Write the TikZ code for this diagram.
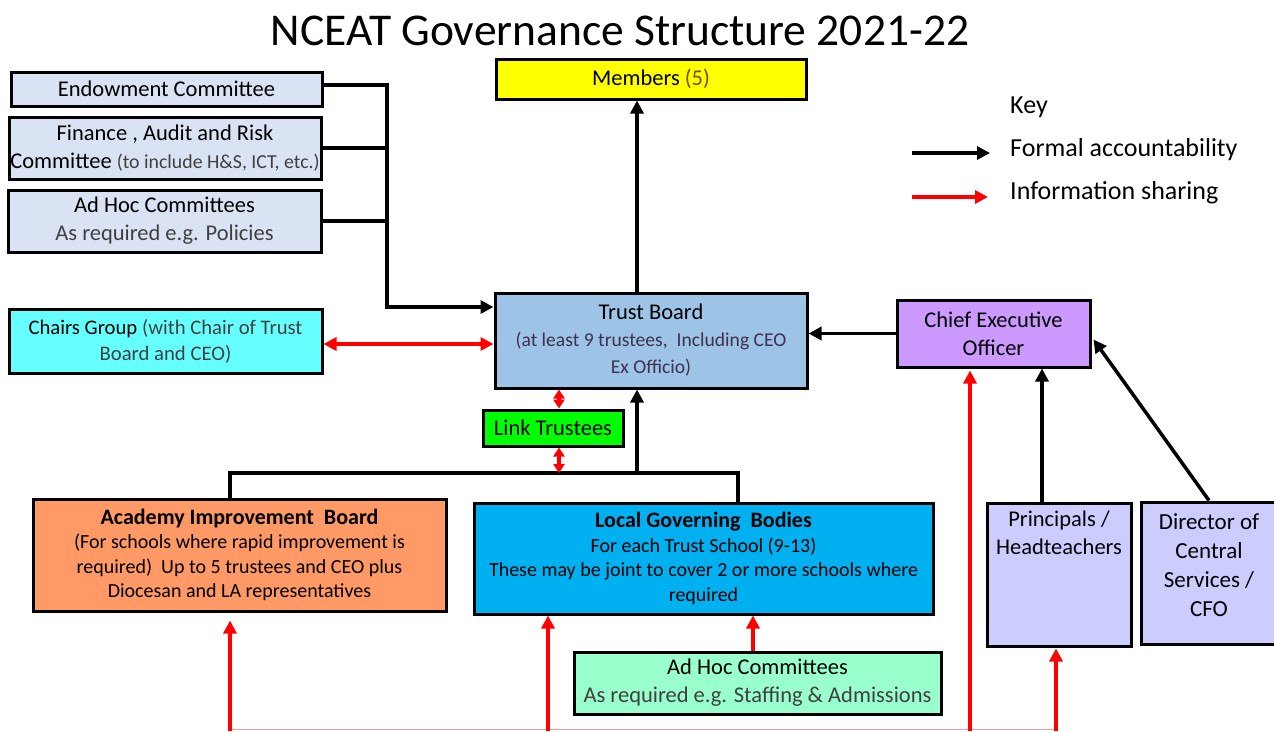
\documentclass[tikz,border=0pt]{standalone}
\usepackage{fontspec}
\setmainfont{Carlito}
\usetikzlibrary{arrows.meta}
\usetikzlibrary{calc}

\definecolor{cmtfill}{HTML}{DAE3F3}
\definecolor{chairfill}{HTML}{66FFFF}
\definecolor{trustfill}{HTML}{9DC3E6}
\definecolor{ceofill}{HTML}{CC99FF}
\definecolor{linkfill}{HTML}{00FF00}
\definecolor{aibfill}{HTML}{FF9966}
\definecolor{lgbfill}{HTML}{00B0F0}
\definecolor{staffcmtfill}{HTML}{99FFCC}
\definecolor{headfill}{HTML}{CCCCFF}
\definecolor{memberfill}{HTML}{FFFF00}
\definecolor{subgrey}{HTML}{404040}
\definecolor{tbgrey}{HTML}{3F3151}
\definecolor{fivebrown}{HTML}{7A4A00}
\definecolor{feedpink}{HTML}{FF9999}

\begin{document}
\begin{tikzpicture}[x=1pt, y=-1pt, >={Triangle[length=13pt,width=13pt]},
  box/.style={draw, line width=3pt, align=center, inner sep=0pt, font=\fontsize{22.5}{28}\selectfont},
  small/.style={font=\fontsize{20}{24.5}\selectfont},
  acc/.style={black, line width=3.5pt},
  info/.style={red, line width=3.5pt},
  shorttip/.style={>={Triangle[length=9pt,width=11pt]}},
  keytxt/.style={anchor=west, inner sep=0pt, font=\fontsize{26}{30}\selectfont}]
\useasboundingbox (0,0) rectangle (1274,731);

% title
\node[font=\fontsize{45.5}{50}\selectfont] (title) at (620,31) {NCEAT Governance Structure 2021-22};

% committees on the left
\node[box, fill=cmtfill, minimum width=311pt, minimum height=34pt] (endow) at (166.5,89) {Endowment Committee};
\node[box, fill=cmtfill, minimum width=312pt, minimum height=62pt] (finance) at (165,148)
  {Finance , Audit and Risk\\Committee \textcolor{subgrey}{\fontsize{19.8}{28}\selectfont(to include H\&S, ICT, etc.)}};
\node[box, fill=cmtfill, minimum width=313pt, minimum height=62pt] (adhocpol) at (164.5,221)
  {Ad Hoc Committees\\\textcolor{subgrey}{As required e.g. Policies}};
\node[box, fill=chairfill, minimum width=313pt, minimum height=64pt, font=\fontsize{20.7}{26}\selectfont] (chairs) at (165.5,341)
  {Chairs Group \textcolor{subgrey}{(with Chair of Trust}\\\textcolor{subgrey}{Board and CEO)}};

% top of the structure
\node[box, fill=memberfill, minimum width=310pt, minimum height=40pt] (members) at (651,79)
  {Members \textcolor{fivebrown}{(5)}};
\node[box, fill=trustfill, minimum width=312pt, minimum height=95pt, font=\fontsize{19.6}{27}\selectfont] (trust) at (651,340.5)
  {\fontsize{22.5}{27}\selectfont Trust Board\\\textcolor{tbgrey}{(at least 9 trustees,~ Including CEO}\\\textcolor{tbgrey}{Ex Officio)}};
\node[box, fill=ceofill, minimum width=193pt, minimum height=67pt] (ceo) at (993.5,333.5)
  {Chief Executive\\Officer};
\node[box, fill=linkfill, minimum width=140pt, minimum height=36pt] (link) at (553,428) {Link Trustees};

% boards below
\node[box, small, fill=aibfill, minimum width=413pt, minimum height=112pt] (aib) at (239.5,555)
  {\fontsize{22}{24.5}\selectfont\textbf{Academy Improvement~ Board}\\(For schools where rapid improvement is\\required)~ Up to 5 trustees and CEO plus\\Diocesan and LA representatives};
\node[box, small, fill=lgbfill, minimum width=459pt, minimum height=111pt] (lgb) at (703.5,558.5)
  {\fontsize{22}{24.5}\selectfont\textbf{Local Governing~ Bodies}\\For each Trust School (9-13)\\These may be joint to cover 2 or more schools where\\required};
\node[box, fill=staffcmtfill, minimum width=367pt, minimum height=62pt] (adhocstaff) at (757.5,683)
  {Ad Hoc Committees\\\textcolor{subgrey}{As required e.g. Staffing \& Admissions}};
\node[box, fill=headfill, minimum width=144pt, minimum height=143pt,
  label={[align=center, anchor=north, yshift=-6pt, font=\fontsize{22.5}{28}\selectfont]north:Principals /\\Headteachers}] (princ) at (1059,574.5) {};
\node[box, fill=headfill, minimum width=136pt, minimum height=142pt,
  label={[align=center, anchor=north, yshift=-9.5pt, font=\fontsize{23}{29}\selectfont]north:Director of\\Central\\Services /\\CFO}] (dir) at (1209,573) {};

% key
\node[keytxt] (keyhead) at (1010,107) {Key};
\node[keytxt] (keyacc) at (1010,150) {Formal accountability};
\node[keytxt] (keyinfo) at (1010,193) {Information sharing};
\draw[acc, ->] ([xshift=-98pt, yshift=-3pt]keyacc.west) -- ([xshift=-20pt, yshift=-3pt]keyacc.west);
\draw[info, ->] ([xshift=-98pt, yshift=-4pt]keyinfo.west) -- ([xshift=-22pt, yshift=-4pt]keyinfo.west);

% accountability lines
\coordinate (spine) at (387,307);
\draw[acc, ->] ([yshift=4pt]endow.east) -| (spine) -- (spine -| trust.west);
\draw[acc] (finance.east) -- (finance.east -| spine);
\draw[acc] (adhocpol.east) -- (adhocpol.east -| spine);
\draw[acc, ->] ([xshift=-14pt]trust.north) -- ([xshift=-14pt]members.south);
\draw[acc, ->] (ceo.west) -- (ceo.west -| trust.east);

\coordinate (barL) at (230,473);
\coordinate (barM) at (637,473);
\coordinate (barR) at (738,473);
\draw[acc] (aib.north -| barL) -- (barL) -- (barR) -- (lgb.north -| barR);
\draw[acc, ->] (barM) -- (barM |- trust.south);

\coordinate (headup) at (1042,0);
\draw[acc, ->] (princ.north -| headup) -- (ceo.south -| headup);
\draw[acc, ->] (dir.north) -- ([yshift=-6pt, xshift=2pt]ceo.east);

% information sharing
\draw[info, <->] ([yshift=-3pt]chairs.east) -- ([yshift=-3pt]chairs.east -| trust.west);
\draw[info, shorttip, <->] ([xshift=6pt]link.north) -- ([xshift=6pt]link.north |- trust.south);
\draw[info, shorttip, <->] ([xshift=6pt]link.south) -- ([xshift=6pt]link.south |- barM);
\draw[info, ->] ([xshift=-4.5pt]adhocstaff.north) -- ([xshift=-4.5pt]adhocstaff.north |- lgb.south);

\coordinate (feedA) at (230,731);
\coordinate (feedB) at (548,731);
\coordinate (feedC) at (970,731);
\coordinate (feedD) at (1056,731);
\draw[feedpink, line width=1pt] ([yshift=2pt]feedA) -- ([yshift=2pt]feedD);
\draw[info, ->] (feedA) -- ([yshift=-8pt]aib.south -| feedA);
\draw[info, ->] (feedB) -- (lgb.south -| feedB);
\draw[info, ->] (feedC) -- ([yshift=-2pt]ceo.south -| feedC);
\draw[info, ->] (feedD) -- ([yshift=-1pt]princ.south -| feedD);
\end{tikzpicture}
\end{document}
